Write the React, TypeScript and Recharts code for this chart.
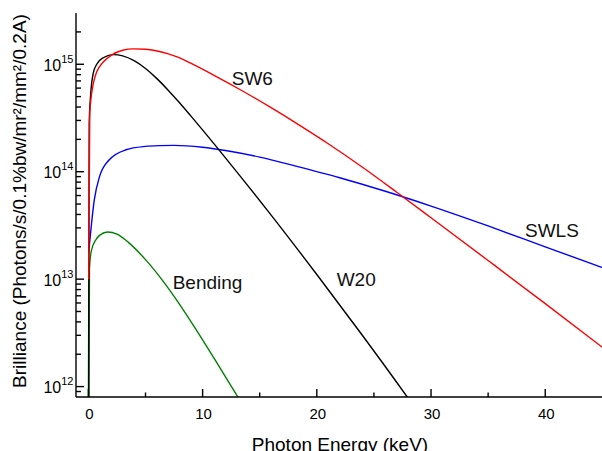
import React from 'react';
import { LineChart, Line, XAxis, YAxis, ReferenceDot } from 'recharts';

// ---- data ----
const sw6Energy = [0.02, 0.12, 0.43, 0.73, 1.3, 2.04, 3.0, 3.93, 5, 6, 7, 8, 9, 11, 13.5, 16, 18.5, 21, 24, 27, 30, 35, 40, 45];
const sw6Brilliance = [1.0e13, 3.55e14, 6.6e14, 8.5e14, 1.05e15, 1.22e15, 1.35e15, 1.39e15, 1.38e15, 1.33e15, 1.25e15, 1.145e15, 1.018e15, 7.89e14, 5.64e14, 3.94e14, 2.7e14, 1.82e14, 1.1e14, 6.44e13, 3.73e13, 1.49e13, 5.92e12, 2.32e12];

const w20Energy = [0.0, 0.07, 0.2, 0.43, 0.73, 1.3, 2.2, 3, 4, 5, 6, 7, 8, 9, 12, 16, 20, 24, 28, 30];
const w20Brilliance = [3.2e11, 2.8e14, 5.25e14, 8.3e14, 1.0e15, 1.15e15, 1.23e15, 1.197e15, 1.079e15, 9.12e14, 7.35e14, 5.71e14, 4.36e14, 3.27e14, 1.346e14, 3.94e13, 1.104e13, 2.99e12, 7.78e11, 3.89e11];

const swlsEnergy = [0.02, 0.52, 0.96, 1.83, 3.3, 5, 6.2, 7.5, 10, 12, 15, 18, 22, 26, 30, 35, 40, 45];
const swlsBrilliance = [1.74e13, 5.5e13, 8.9e13, 1.29e14, 1.6e14, 1.72e14, 1.75e14, 1.76e14, 1.69e14, 1.574e14, 1.368e14, 1.138e14, 8.79e13, 6.58e13, 4.79e13, 3.13e13, 2.0e13, 1.28e13];

const bendingEnergy = [0.05, 0.09, 0.25, 0.67, 1.0, 1.7, 2.5, 3.5, 5, 6.5, 8, 9.5, 11, 13, 14];
const bendingBrilliance = [5e11, 1.26e13, 1.82e13, 2.34e13, 2.57e13, 2.75e13, 2.62e13, 2.2e13, 1.52e13, 9.7e12, 5.8e12, 3.3e12, 1.837e12, 8.28e11, 5.55e11];

const seriesNames = ['SW6', 'W20', 'SWLS', 'Bending'];
// label anchor points (data coordinates: keV, brilliance)
const labelEnergy = [12.55, 21.74, 38.23, 7.38];
const labelBrilliance = [6.41e14, 8.67e12, 2.49e13, 8.04e12];

const xTicks = [0, 5, 10, 15, 20, 25, 30, 35, 40];
const xLabelledTicks = [0, 10, 20, 30, 40];
const yTicks = [
  9e11,
  1e12, 2e12, 3e12, 4e12, 5e12, 6e12, 7e12, 8e12, 9e12,
  1e13, 2e13, 3e13, 4e13, 5e13, 6e13, 7e13, 8e13, 9e13,
  1e14, 2e14, 3e14, 4e14, 5e14, 6e14, 7e14, 8e14, 9e14,
  1e15, 2e15,
];
const yDecades = [1e12, 1e13, 1e14, 1e15];
const yDecadeExponents = ['12', '13', '14', '15'];

const xTitle = 'Photon Energy (keV)';
const yTitle = 'Brilliance (Photons/s/0.1%bw/mr²/mm²/0.2A)';

const zip = (xs: number[], ys: number[]) => xs.map((x, i) => ({ x, y: ys[i] }));
const sw6 = zip(sw6Energy, sw6Brilliance);
const w20 = zip(w20Energy, w20Brilliance);
const swls = zip(swlsEnergy, swlsBrilliance);
const bending = zip(bendingEnergy, bendingBrilliance);

const FONT = '"Liberation Sans", Arial, sans-serif';
const AX = 1.4;

const BottomTick = (props: any) => {
  const { x, y, payload } = props;
  const major = xLabelledTicks.includes(payload.value);
  return (
    <g>
      <line x1={x} x2={x} y1={y} y2={y - (major ? 8 : 4.5)} stroke="#000" strokeWidth={AX} />
      {major && (
        <text x={x + 1} y={y + 22} textAnchor="middle" fontSize={15} fontFamily={FONT} fill="#000">
          {payload.value}
        </text>
      )}
    </g>
  );
};

const TopTick = (props: any) => {
  const { x, y } = props;
  return <line x1={x} x2={x} y1={y} y2={y + 3} stroke="#000" strokeWidth={AX} />;
};

const LeftTick = (props: any) => {
  const { x, y, payload } = props;
  const idx = yDecades.findIndex((d) => Math.abs(d - payload.value) / d < 1e-6);
  const major = idx >= 0;
  return (
    <g>
      <line x1={x} x2={x + (major ? 8 : 5)} y1={y} y2={y} stroke="#000" strokeWidth={AX} />
      {major && (
        <text x={x - 2.5} y={y + 6.4} textAnchor="end" fontSize={16} fontFamily={FONT} fill="#000">
          10
          <tspan fontSize={11} dy={-8}>
            {yDecadeExponents[idx]}
          </tspan>
        </text>
      )}
    </g>
  );
};

const XTitle = (props: any) => {
  const vb = props.viewBox || {};
  return (
    <text
      x={vb.x + vb.width / 2 + 1}
      y={vb.y + vb.height - 0.5}
      textAnchor="middle"
      fontSize={19}
      fontFamily={FONT}
      fill="#000"
    >
      {xTitle}
    </text>
  );
};

const YTitle = (props: any) => {
  const vb = props.viewBox || {};
  const cx = 26;
  const cy = vb.y + vb.height / 2 - 4;
  return (
    <text
      x={cx}
      y={cy}
      transform={`rotate(-90, ${cx}, ${cy})`}
      textAnchor="middle"
      fontSize={19}
      fontFamily={FONT}
      fill="#000"
    >
      {yTitle}
    </text>
  );
};

const makeLabelShape = (name: string) => (p: any) => (
  <text x={p.cx} y={p.cy} fontSize={19} fontFamily={FONT} fill="#111">
    {name}
  </text>
);

export default function App() {
  return (
    <div style={{ position: 'absolute', left: 0, top: 0, background: '#fff' }}>
      <LineChart width={602} height={451} margin={{ top: 13, right: 0, bottom: 0, left: 0 }}>
        <XAxis
          dataKey="x"
          type="number"
          domain={[-1.086, 44.97]}
          allowDataOverflow
          ticks={xTicks}
          interval={0}
          height={54}
          tickSize={0}
          tickMargin={0}
          tickLine={false}
          tick={BottomTick}
          axisLine={{ stroke: '#000', strokeWidth: AX }}
          label={{ content: XTitle }}
        />
        <XAxis
          xAxisId="top"
          orientation="top"
          dataKey="x"
          type="number"
          domain={[-1.086, 44.97]}
          allowDataOverflow
          ticks={xTicks}
          interval={0}
          height={0}
          tickSize={0}
          tickMargin={0}
          tickLine={false}
          tick={TopTick}
          axisLine={{ stroke: '#000', strokeWidth: AX }}
        />
        <YAxis
          type="number"
          scale="log"
          domain={[8e11, 3e15]}
          allowDataOverflow
          ticks={yTicks}
          interval={0}
          width={76}
          tickSize={0}
          tickMargin={0}
          tickLine={false}
          tick={LeftTick}
          axisLine={{ stroke: '#000', strokeWidth: AX }}
          label={{ content: YTitle }}
        />
        <Line data={swls} dataKey="y" type="monotone" stroke="#0000ff" strokeWidth={1.4} dot={false} isAnimationActive={false} />
        <Line data={bending} dataKey="y" type="monotone" stroke="#008000" strokeWidth={1.4} dot={false} isAnimationActive={false} />
        <Line data={w20} dataKey="y" type="monotone" stroke="#000000" strokeWidth={1.4} dot={false} isAnimationActive={false} />
        <Line data={sw6} dataKey="y" type="monotone" stroke="#ff0000" strokeWidth={1.4} dot={false} isAnimationActive={false} />
        {seriesNames.map((n, i) => (
          <ReferenceDot
            key={n}
            x={labelEnergy[i]}
            y={labelBrilliance[i]}
            r={0}
            ifOverflow="visible"
            shape={makeLabelShape(n)}
          />
        ))}
      </LineChart>
    </div>
  );
}
